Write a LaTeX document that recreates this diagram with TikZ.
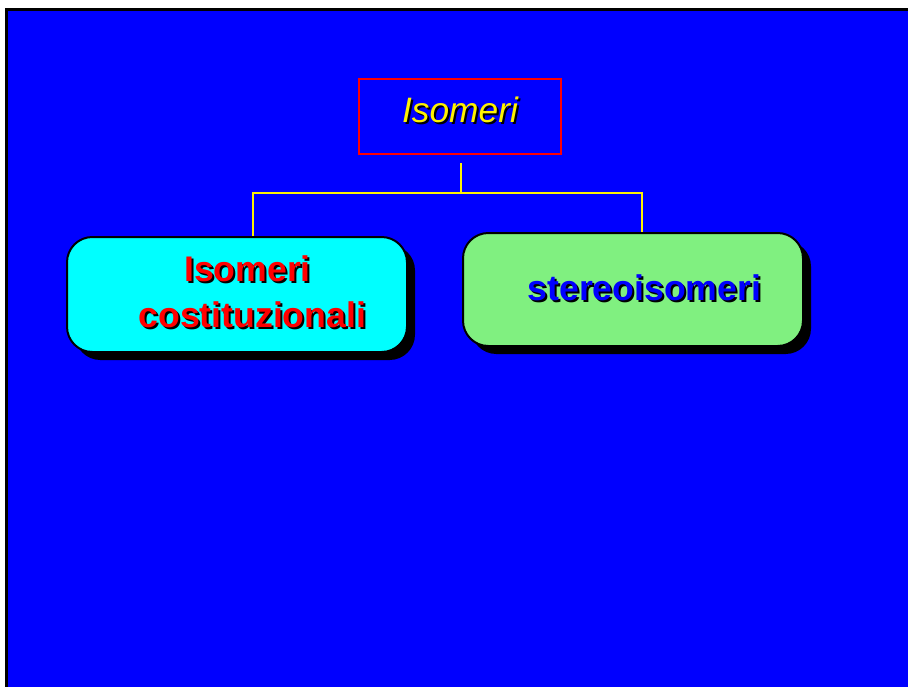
\documentclass[tikz,border=0pt]{standalone}
\usepackage{fontspec}
\setmainfont{Liberation Sans}
\usepackage{tikz}
\usetikzlibrary{shadows}

\definecolor{slideblue}{RGB}{0,0,255}
\definecolor{boxcyan}{RGB}{0,255,255}
\definecolor{boxgreen}{RGB}{128,240,128}

% text with a small black shadow
\newcommand{\shtext}[2]{\makebox[0pt][l]{\hspace{1.5pt}\raisebox{-1.5pt}{\color{black}#2}}{\color{#1}#2}}

\tikzset{
  topbox/.style={draw=red, line width=1.5pt, fill=slideblue, minimum width=151.5pt, minimum height=56.25pt},
  classbox/.style={draw=black, line width=1.5pt, rounded corners=19pt, minimum width=255pt,
    drop shadow={shadow xshift=6pt, shadow yshift=-6pt, fill=black, opacity=1},
    font=\fontsize{26.7}{34.5}\selectfont\bfseries, align=center},
  conn/.style={draw=yellow, line width=1.5pt}
}

\begin{document}
\begin{tikzpicture}[x=0.75pt, y=-0.75pt]
      \useasboundingbox (0,0) rectangle (908,687);
      \fill[white] (0,0) rectangle (908,687);
      \fill[black] (5,8) rectangle (908,687);
      \fill[slideblue] (8,11) rectangle (908,687);
      % boxes
      \node[topbox, font=\fontsize{26.5}{30}\selectfont\itshape] (top) at (460,116.5) {\raisebox{10pt}{\shtext{yellow}{Isomeri}}};
      \node[classbox, fill=boxcyan, minimum height=86.25pt] (cost) at (237,294.5)
        {\raisebox{5pt}{\hspace{15.8pt}\shtext{red}{Isomeri}}\\\raisebox{5pt}{\hspace{23pt}\shtext{red}{costituzionali}}};
      \node[classbox, fill=boxgreen, minimum height=84.75pt] (stereo) at (633,289.5)
        {\raisebox{3pt}{\hspace{17pt}\shtext{slideblue}{stereoisomeri}}};
      % connectors
      \coordinate (fork) at (461,193);
      \draw[conn] (461,163) -- (fork);
      \draw[conn] (fork) -| (cost.north -| 253,0);
      \draw[conn] (fork) -| (stereo.north -| 642,0);
\end{tikzpicture}
\end{document}
